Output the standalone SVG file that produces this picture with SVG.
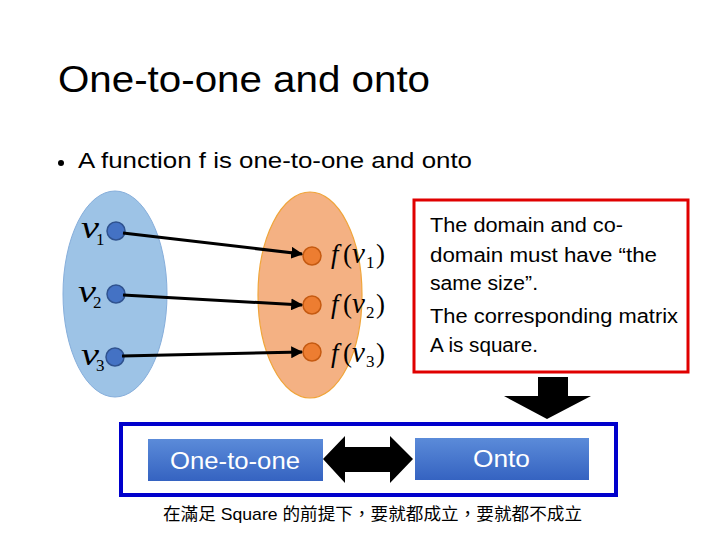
<svg xmlns="http://www.w3.org/2000/svg" width="720" height="540" viewBox="0 0 720 540">
<defs>
<linearGradient id="btn" x1="0" y1="0" x2="0" y2="1">
<stop offset="0" stop-color="#5b8bd9"/>
<stop offset="1" stop-color="#3563c1"/>
</linearGradient>
<marker id="ah" viewBox="0 0 10 10" refX="9" refY="5" markerWidth="4" markerHeight="4" orient="auto" markerUnits="strokeWidth">
<path d="M0,0 L10,5 L0,10 z" fill="#000"/>
</marker>
</defs>
<style>
.sans{font-family:"Liberation Sans","Open Sans",sans-serif;fill:#000}
.math{font-family:"Liberation Serif","DejaVu Serif",serif;fill:#000}
.bd{fill:#4472c4;stroke:#2f528f;stroke-width:1.5}
.od{fill:#ed7d31;stroke:#c55a11;stroke-width:1.5}
.conn{stroke:#000;stroke-width:3;fill:none;marker-end:url(#ah)}
.btnt{font-family:"Liberation Sans","Open Sans",sans-serif;fill:#fff;font-size:23px}
.vv{font-size:31px;font-style:italic}
.sub{font-size:17px}
.ff{font-size:27px}
</style>
<rect width="720" height="540" fill="#fff"/>
<text class="sans" x="58" y="92" font-size="36" textLength="372" lengthAdjust="spacingAndGlyphs" fill="#111">One-to-one and onto</text>
<circle cx="61" cy="163" r="3" fill="#000"/>
<text class="sans" x="78" y="168" font-size="22" textLength="394" lengthAdjust="spacingAndGlyphs">A function f is one-to-one and onto</text>

<g id="domain">
<ellipse cx="115" cy="294" rx="52" ry="103" fill="#9dc3e6" stroke="#86aedb" stroke-width="1"/>
</g>
<g id="codomain">
<ellipse cx="310" cy="295" rx="52" ry="103" fill="#f4b183" stroke="#f0a53a" stroke-width="1.2"/>
</g>

<g id="v1"><circle class="bd" cx="116" cy="231" r="9"/>
<text class="math vv" x="81" y="238" textLength="18" lengthAdjust="spacingAndGlyphs">v</text><text class="math sub" x="96" y="245">1</text></g>
<g id="v2"><circle class="bd" cx="116" cy="294" r="9"/>
<text class="math vv" x="78" y="302" textLength="18" lengthAdjust="spacingAndGlyphs">v</text><text class="math sub" x="93" y="308">2</text></g>
<g id="v3"><circle class="bd" cx="115" cy="357" r="9"/>
<text class="math vv" x="81" y="365" textLength="18" lengthAdjust="spacingAndGlyphs">v</text><text class="math sub" x="96" y="371">3</text></g>

<g id="fv1"><circle class="od" cx="312" cy="256" r="9"/>
<text class="math ff" y="263"><tspan x="331" font-style="italic">f</tspan><tspan x="343">(</tspan><tspan x="352" font-style="italic" font-size="29">v</tspan><tspan x="366" class="sub" dy="5">1</tspan><tspan x="376" dy="-5">)</tspan></text></g>
<g id="fv2"><circle class="od" cx="312" cy="305" r="9"/>
<text class="math ff" y="313"><tspan x="331" font-style="italic">f</tspan><tspan x="343">(</tspan><tspan x="352" font-style="italic" font-size="29">v</tspan><tspan x="366" class="sub" dy="5">2</tspan><tspan x="376" dy="-5">)</tspan></text></g>
<g id="fv3"><circle class="od" cx="312" cy="352" r="9"/>
<text class="math ff" y="362"><tspan x="331" font-style="italic">f</tspan><tspan x="343">(</tspan><tspan x="352" font-style="italic" font-size="29">v</tspan><tspan x="366" class="sub" dy="5">3</tspan><tspan x="376" dy="-5">)</tspan></text></g>

<g id="connectors">
<line class="conn" x1="123" y1="233" x2="302" y2="254"/>
<line class="conn" x1="123" y1="295" x2="302" y2="305"/>
<line class="conn" x1="122" y1="356" x2="302" y2="352"/>
<path d="M538,377 H568 V396 H591 L547,419 L504,396 H538 Z" fill="#000"/>
<path d="M323,459 L345,436 V447 H390 V436 L413,459 L390,483 V472 H345 V483 Z" fill="#000"/>
</g>

<g id="note">
<rect x="414" y="200" width="274" height="172" fill="#fff" stroke="#e00000" stroke-width="3"/>
<text class="sans" font-size="20">
<tspan x="430" y="232" textLength="193" lengthAdjust="spacingAndGlyphs">The domain and co-</tspan>
<tspan x="430" y="262" textLength="227" lengthAdjust="spacingAndGlyphs">domain must have “the</tspan>
<tspan x="430" y="290" textLength="108" lengthAdjust="spacingAndGlyphs">same size”.</tspan>
<tspan x="430" y="323" textLength="248" lengthAdjust="spacingAndGlyphs">The corresponding matrix</tspan>
<tspan x="430" y="352" textLength="108" lengthAdjust="spacingAndGlyphs">A is square.</tspan>
</text>
</g>

<g id="frame">
<rect x="121" y="424" width="495" height="71" fill="none" stroke="#0000cc" stroke-width="4"/>
</g>
<g id="one-to-one">
<rect x="148" y="439" width="175" height="42" fill="url(#btn)"/>
<text class="btnt" x="170" y="469" textLength="130" lengthAdjust="spacingAndGlyphs">One-to-one</text>
</g>
<g id="onto">
<rect x="415" y="438" width="174" height="42" fill="url(#btn)"/>
<text class="btnt" x="473" y="467" textLength="57" lengthAdjust="spacingAndGlyphs">Onto</text>
</g>
<text x="163" y="520" font-size="17" font-family="'Liberation Sans','Noto Sans CJK TC',sans-serif" textLength="419" lengthAdjust="spacingAndGlyphs">在滿足 Square 的前提下，要就都成立，要就都不成立</text>
</svg>
